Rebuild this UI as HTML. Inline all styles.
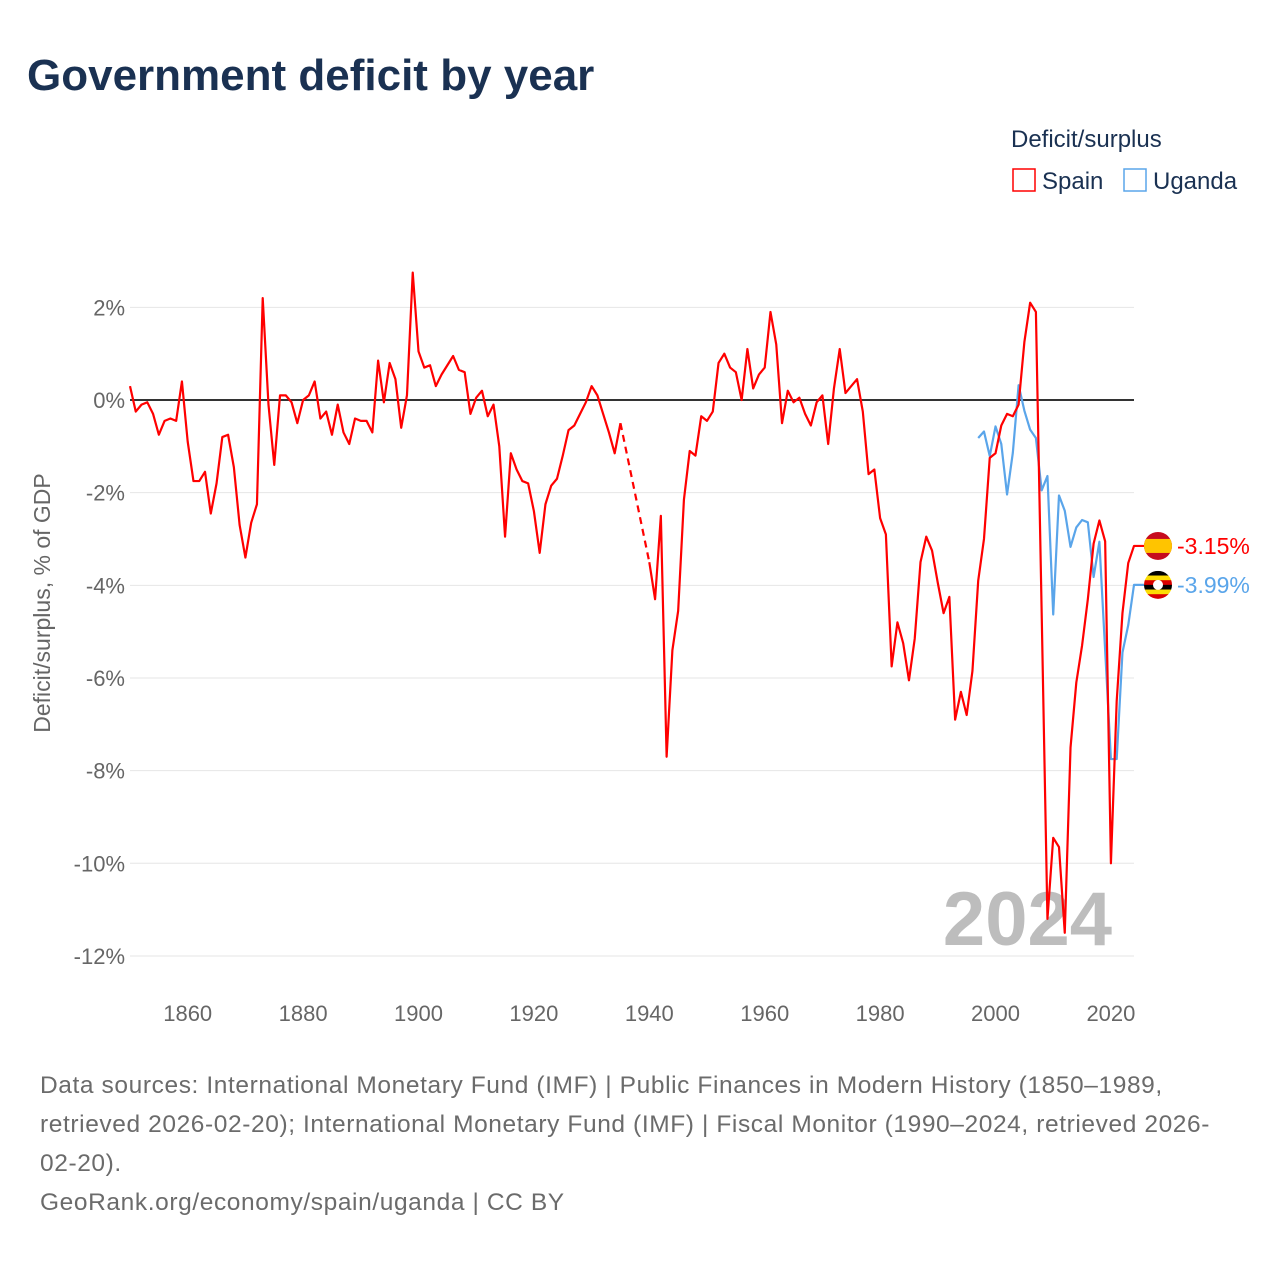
<!DOCTYPE html>
<html><head><meta charset="utf-8">
<style>
html,body{margin:0;padding:0;background:#fff;}
body{width:1280px;height:1280px;position:relative;font-family:"Liberation Sans",sans-serif;overflow:hidden;}
#title{position:absolute;left:27px;top:51px;font-size:44px;font-weight:bold;color:#1a3152;margin:0;letter-spacing:0px;}
#footer{position:absolute;left:40px;top:1066px;width:1230px;font-size:24.5px;line-height:39px;color:#6b6b6b;letter-spacing:0.6px;white-space:nowrap;}
svg{position:absolute;left:0;top:0;}
</style></head>
<body>
<h1 id="title">Government deficit by year</h1>
<svg id="chart" width="1280" height="1060"></svg>
<div id="footer">Data sources: International Monetary Fund (IMF) | Public Finances in Modern History (1850–1989,<br>retrieved 2026-02-20); International Monetary Fund (IMF) | Fiscal Monitor (1990–2024, retrieved 2026-<br>02-20).<br>GeoRank.org/economy/spain/uganda | CC BY</div>
<script>
const spainStart = 1850;
const spainValues = [0.3,-0.25,-0.1,-0.05,-0.3,-0.75,-0.45,-0.4,-0.45,0.4,
-0.9,-1.75,-1.75,-1.55,-2.45,-1.8,-0.8,-0.75,-1.45,-2.7,
-3.4,-2.65,-2.25,2.2,-0.1,-1.4,0.1,0.1,-0.05,-0.5,
0.0,0.1,0.4,-0.4,-0.25,-0.75,-0.1,-0.7,-0.95,-0.4,
-0.45,-0.45,-0.7,0.85,-0.05,0.8,0.45,-0.6,0.1,2.75,
1.05,0.7,0.75,0.3,0.55,0.75,0.95,0.65,0.6,-0.3,
0.05,0.2,-0.35,-0.1,-1.0,-2.95,-1.15,-1.5,-1.75,-1.8,
-2.4,-3.3,-2.25,-1.85,-1.7,-1.2,-0.65,-0.55,-0.3,-0.05,
0.3,0.1,-0.3,-0.7,-1.15,-0.5,null,null,null,null,
-3.5,-4.3,-2.5,-7.7,-5.4,-4.55,-2.15,-1.1,-1.2,-0.35,
-0.45,-0.25,0.8,1.0,0.7,0.6,0.0,1.1,0.25,0.55,
0.7,1.9,1.2,-0.5,0.2,-0.05,0.05,-0.3,-0.55,-0.05,
0.1,-0.95,0.25,1.1,0.15,0.3,0.45,-0.25,-1.6,-1.5,
-2.55,-2.9,-5.75,-4.8,-5.25,-6.05,-5.15,-3.5,-2.95,-3.25,
-3.95,-4.6,-4.25,-6.9,-6.3,-6.8,-5.85,-3.9,-3.0,-1.25,
-1.15,-0.55,-0.3,-0.35,-0.1,1.25,2.1,1.9,-4.6,-11.2,
-9.45,-9.65,-11.5,-7.5,-6.1,-5.3,-4.3,-3.1,-2.6,-3.05,
-10.0,-6.5,-4.6,-3.52,-3.15];
const ugandaStart = 1997;
const ugandaValues = [-0.82,-0.68,-1.21,-0.57,-0.95,-2.04,-1.14,0.32,-0.23,-0.64,
-0.82,-1.95,-1.64,-4.63,-2.06,-2.39,-3.17,-2.75,-2.59,-2.64,
-3.82,-3.06,-5.4,-7.75,-7.75,-5.45,-4.86,-3.99];
const yTicks = [2,0,-2,-4,-6,-8,-10,-12];
const xTicks = [1860,1880,1900,1920,1940,1960,1980,2000,2020];

const NS='http://www.w3.org/2000/svg';
const svg=document.getElementById('chart');
const L=130, R=1134;
const xS=y=>L+(y-1850)*(R-L)/174;
const yS=v=>400-v*46.33;
function mk(tag,attrs,parent){const e=document.createElementNS(NS,tag);for(const k in attrs)e.setAttribute(k,attrs[k]);(parent||svg).appendChild(e);return e;}

yTicks.forEach(t=>{
  const g=mk('line',{x1:L,x2:R,y1:yS(t),y2:yS(t),stroke:t===0?'#333':'#e6e6e6','stroke-width':t===0?2:1});
  
  
  const tx=mk('text',{x:125,y:yS(t)+8,'text-anchor':'end','font-size':22,fill:'#666'});
  tx.textContent=t+'%';
  
  
});
xTicks.forEach(t=>{
  const tx=mk('text',{x:xS(t),y:1021,'text-anchor':'middle','font-size':22,fill:'#666'});
  tx.textContent=t;
  
  
});
const yt=mk('text',{x:0,y:0,transform:'translate(50,603) rotate(-90)','text-anchor':'middle','font-size':23,fill:'#666'});
yt.textContent='Deficit/surplus, % of GDP';



const wm=mk('text',{x:1112,y:945,'text-anchor':'end','font-size':76,'font-weight':'bold',fill:'#bdbdbd'});
wm.textContent='2024';



function drawSeries(start,vals,color,name){
  let segs=[],cur=[];
  vals.forEach((v,i)=>{if(v===null){if(cur.length)segs.push(cur);cur=[];}else cur.push([xS(start+i),yS(v)]);});
  if(cur.length)segs.push(cur);
  const last=segs[segs.length-1];
  last.push([1144,last[last.length-1][1]]);
  segs.forEach((s,k)=>{
    const p=mk('polyline',{points:s.map(q=>q.join(',')).join(' '),fill:'none',stroke:color,'stroke-width':2.2,'stroke-linejoin':'round'});
    
    
    if(k>0){const a=segs[k-1][segs[k-1].length-1],b=s[0];
      const d=mk('line',{x1:a[0],y1:a[1],x2:b[0],y2:b[1],stroke:color,'stroke-width':2.2,'stroke-dasharray':'7,5'});
      
      }
  });
}
drawSeries(ugandaStart,ugandaValues,'#5aa5ea','uganda');
drawSeries(spainStart,spainValues,'#ff0000','spain');

const sv=spainValues[spainValues.length-1], uv=ugandaValues[ugandaValues.length-1];
const fs=mk('g',{},svg);
const cs=mk('clipPath',{id:'cs'},svg);mk('circle',{cx:1158,cy:yS(sv),r:14},cs);
const gs=mk('g',{'clip-path':'url(#cs)'},fs);
mk('rect',{x:1144,y:yS(sv)-14,width:28,height:28,fill:'#c60b1e'},gs);
mk('rect',{x:1144,y:yS(sv)-7,width:28,height:14,fill:'#ffc400'},gs);
const cu=mk('clipPath',{id:'cu'},svg);mk('circle',{cx:1158,cy:yS(uv),r:14},cu);
const fu=mk('g',{'clip-path':'url(#cu)'},svg);
['#000','#fcdc04','#d90000','#000','#fcdc04','#d90000'].forEach((c,i)=>mk('rect',{x:1144,y:yS(uv)-14+i*28/6,width:28,height:28/6+0.5,fill:c},fu));
mk('circle',{cx:1158,cy:yS(uv),r:5,fill:'#fff'},fu);
const ls=mk('text',{x:1177,y:yS(sv)+8,'font-size':23,fill:'#ff0000'});ls.textContent=sv.toFixed(2)+'%';

const lu=mk('text',{x:1177,y:yS(uv)+8,'font-size':23,fill:'#5aa5ea'});lu.textContent=uv.toFixed(2)+'%';


const lt=mk('text',{x:1011,y:147,'font-size':24,fill:'#1a3152'});lt.textContent='Deficit/surplus';

[['Spain','#ff0000',1012],['Uganda','#5aa5ea',1123]].forEach(([n,c,x])=>{
  const g=mk('g',{},svg);
  
  
  mk('rect',{x:x+1,y:169,width:22,height:22,fill:'none',stroke:c,'stroke-width':1.5},g);
  const t=mk('text',{x:x+30,y:189,'font-size':24,fill:'#1a3152'},g);t.textContent=n;
});
</script>
</body></html>
